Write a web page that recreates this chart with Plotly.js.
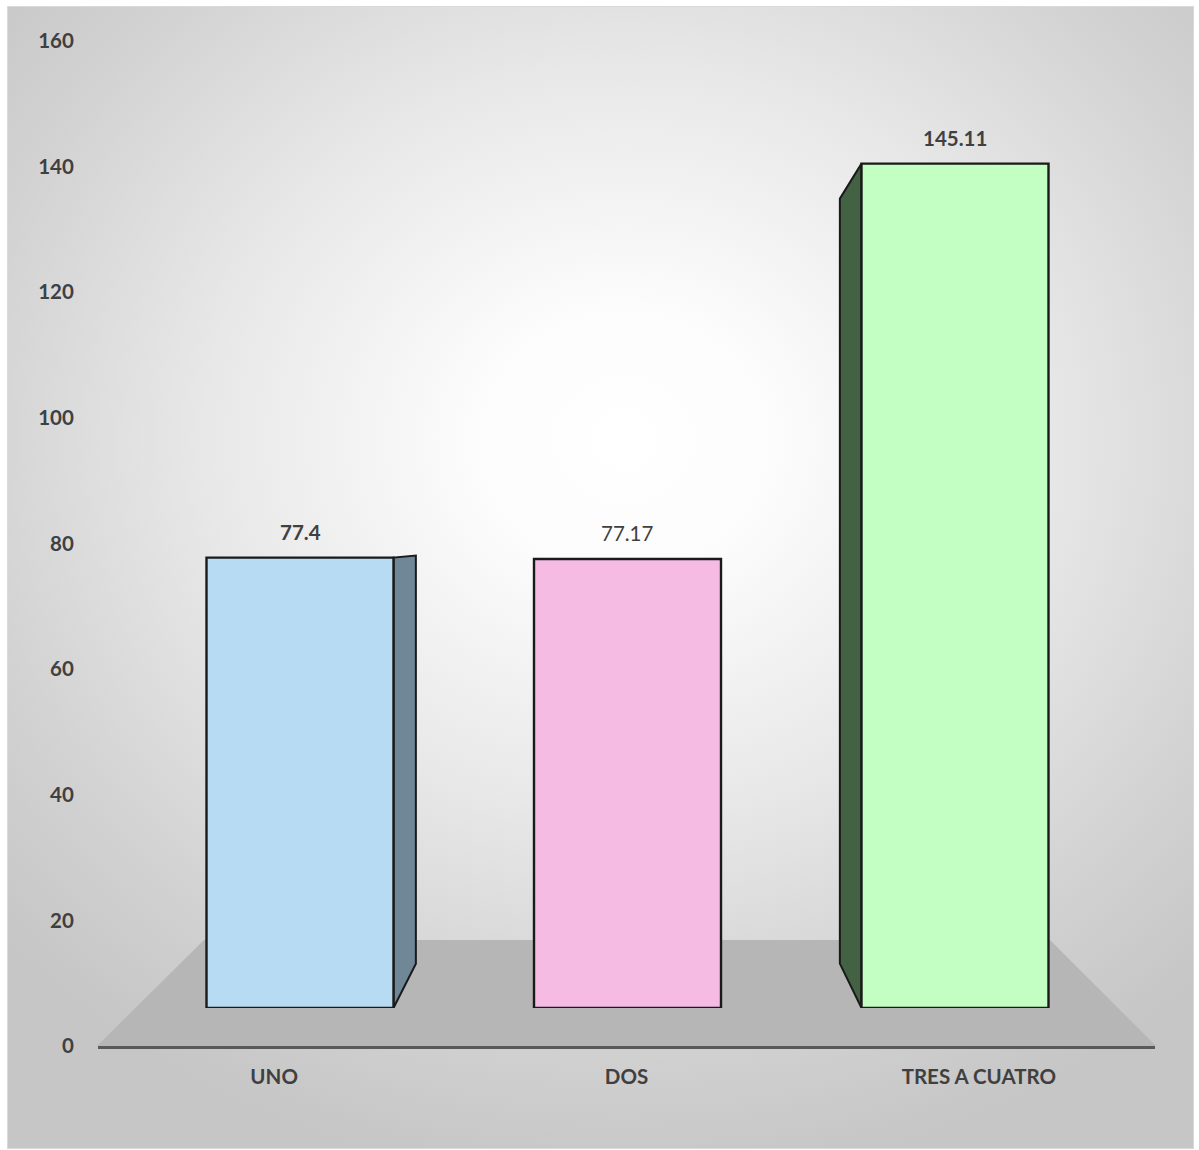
<!DOCTYPE html>
<html>
<head>
<meta charset="utf-8">
<script src="https://cdn.plot.ly/plotly-3.0.1.min.js"></script>
<style>
  html, body { margin: 0; padding: 0; background: #ffffff; }
  #wrap { position: relative; width: 1199px; height: 1150px; }
  #box {
    position: absolute; left: 7px; top: 6px; width: 1185px; height: 1141px;
    border: 1px solid #d9d9d9;
    background: radial-gradient(ellipse 70% 65% at 52% 38%, #ffffff 0%, #fcfcfc 18%, #e8e8e8 50%, #d2d2d2 80%, #c6c6c6 100%);
  }
  #chart { position: absolute; left: 0; top: 0; width: 1199px; height: 1150px; }
</style>
</head>
<body>
<div id="wrap">
  <div id="box"></div>
  <div id="chart"></div>
</div>
<script>
// ---- data ----
const categories = ['UNO', 'DOS', 'TRES A CUATRO'];
const values = [77.4, 77.17, 145.11];
const valueLabels = ['77.4', '77.17', '145.11'];
const yTickValues = [0, 20, 40, 60, 80, 100, 120, 140, 160];

// ---- styles ----
const labelBold = [true, false, true];
const frontColors = ['#b6dbf3', '#f5bbe3', '#c3ffc3'];
const sideColors = ['#6f8797', '#a8769a', '#436243'];
const font = 'Lato, "Open Sans", "DejaVu Sans", sans-serif';
const textColor = '#404040';
const fs = 20.5;

// 3D look: perspective toward a vanishing point (front-plane data units)
const W = 1199, H = 1150;
const halfW = 0.2855;           // half bar width in category units
const vp = {x: 1.012, y: 81.1}; // vanishing point in front-plane units
const depth = 0.906;            // scale of the back face vs front face
function back(px, py) { return [vp.x + depth * (px - vp.x), vp.y + depth * (py - vp.y)]; }

const idx = categories.map((c, i) => i);
const traces = [];

// side faces (drawn below front faces)
idx.forEach(i => {
  let xe = null;
  if (i + halfW < vp.x) xe = i + halfW;
  else if (i - halfW > vp.x) xe = i - halfW;
  if (xe === null) return;
  const b0 = back(xe, 0), b1 = back(xe, values[i]);
  traces.push({
    type: 'scatter', mode: 'lines', xaxis: 'x2', yaxis: 'y2',
    x: [xe, xe, b1[0], b0[0], xe], y: [0, values[i], b1[1], b0[1], 0],
    fill: 'toself', fillcolor: sideColors[i],
    line: {color: '#1a1a1a', width: 2}, hoverinfo: 'skip', showlegend: false
  });
});

// front faces
traces.push({
  type: 'bar', xaxis: 'x3', yaxis: 'y3',
  x: idx, y: values, width: 2 * halfW,
  marker: {color: frontColors, line: {color: '#1a1a1a', width: 2.4}},
  hoverinfo: 'skip', showlegend: false
});

// invisible trace to establish main axes (tick labels)
traces.push({
  type: 'scatter', mode: 'markers', xaxis: 'x', yaxis: 'y',
  x: categories, y: [null, null, null], hoverinfo: 'skip', showlegend: false
});

const annotations = idx.map(i => ({
  xref: 'x3', yref: 'y3', x: i, y: values[i],
  text: labelBold[i] ? '<b>' + valueLabels[i] + '</b>' : valueLabels[i],
  showarrow: false, yanchor: 'bottom', yshift: 12,
  font: {family: font, size: fs, color: textColor}
}));

const px = v => v / W, py = v => (H - v) / H;

const layout = {
  width: W, height: H,
  margin: {l: 0, r: 0, t: 0, b: 0},
  paper_bgcolor: 'rgba(0,0,0,0)', plot_bgcolor: 'rgba(0,0,0,0)',
  showlegend: false,
  xaxis: {
    domain: [px(98), px(1155)], type: 'category', range: [-0.5, 2.5],
    showgrid: false, zeroline: false, showline: true, linecolor: '#595959', linewidth: 3,
    ticks: 'outside', ticklen: 10, tickcolor: 'rgba(0,0,0,0)',
    tickfont: {family: font, size: fs, color: textColor, weight: 'bold'},
    fixedrange: true, anchor: 'y'
  },
  yaxis: {
    domain: [py(1046), py(41)], range: [0, 160],
    tickvals: yTickValues, ticktext: yTickValues.map(String),
    showgrid: false, zeroline: false, showline: false,
    ticks: 'outside', ticklen: 19, tickcolor: 'rgba(0,0,0,0)',
    tickfont: {family: font, size: fs, color: textColor, weight: 'bold'},
    fixedrange: true, anchor: 'x'
  },
  xaxis2: {domain: [px(136.25), px(1118.75)], range: [-0.5, 2.5], visible: false, anchor: 'y2', fixedrange: true},
  yaxis2: {domain: [py(1008), py(76.96)], range: [0, 160], visible: false, anchor: 'x2', fixedrange: true},
  xaxis3: {overlaying: 'x2', range: [-0.5, 2.5], visible: false, anchor: 'y3', fixedrange: true},
  yaxis3: {overlaying: 'y2', range: [0, 160], visible: false, anchor: 'x3', fixedrange: true},
  shapes: [{
    type: 'path', layer: 'below', xref: 'paper', yref: 'paper',
    path: `M ${px(97)} ${py(1046)} L ${px(204)} ${py(940)} L ${px(1050)} ${py(940)} L ${px(1156)} ${py(1046)} Z`,
    fillcolor: '#b6b6b6', line: {width: 0}
  }],
  annotations: annotations
};

Plotly.newPlot('chart', traces, layout, {displayModeBar: false, staticPlot: true});
</script>
</body>
</html>
